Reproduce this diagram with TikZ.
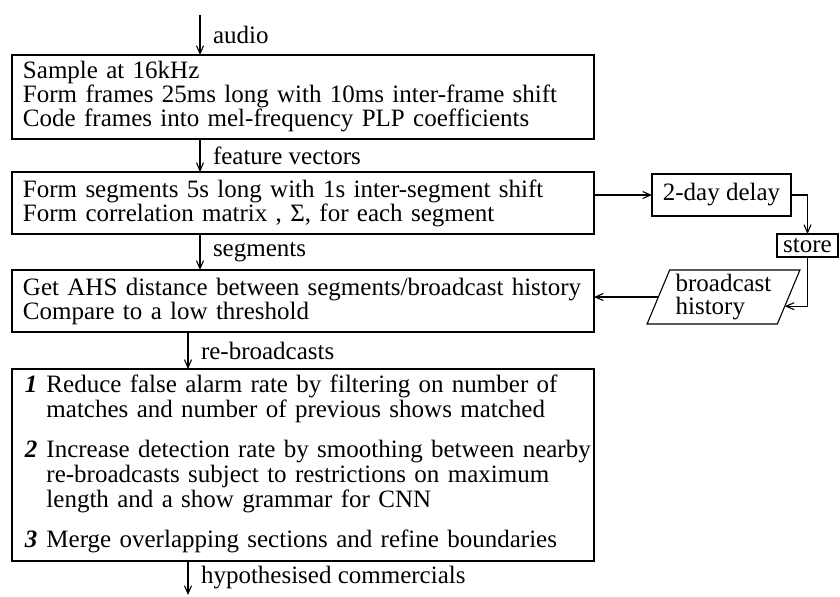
\documentclass[tikz,border=0pt]{standalone}
\usepackage{fontspec}
\setmainfont{Liberation Serif}
\usetikzlibrary{arrows.meta,shapes.geometric,calc}

\begin{document}
\begin{tikzpicture}[x=0.5pt,y=-0.5pt,
        every node/.style={font=\fontsize{12.5}{12}\selectfont, outer sep=0pt},
        box/.style={draw, line width=0.55pt, anchor=north west, align=left,
            text width=280pt, inner xsep=5.5pt, inner ysep=0pt},
        sidebox/.style={draw, line width=0.55pt, inner sep=0pt},
        flow/.style={line width=0.55pt, -{Straight Barb[length=4pt,width=3.5pt]}},
        lbl/.style={midway, right, inner sep=0pt, xshift=6.5pt}]
        \useasboundingbox (0,0) rectangle (840,596);

        \coordinate (top) at (200,15);
        \coordinate (bottom) at (188,595);

        % main chain
        \node[box, minimum height=42pt] (sample) at (12,55) {Sample at 16kHz\\
            Form frames 25ms long with 10ms inter-frame shift\\
            Code frames into mel-frequency PLP coefficients};
        \node[box, minimum height=31pt] (segbox) at (12,172) {Form segments 5s long with 1s inter-segment shift\\
            Form correlation matrix , Σ, for each segment};
        \node[box, minimum height=31pt] (ahsbox) at (12,270) {Get AHS distance between segments/broadcast history\\
            Compare to a low threshold};
        \node[box, minimum height=96pt, inner xsep=6.5pt, text width=278pt] (postbox) at (12,369) {%
            \begin{tabular}{@{}l@{\hspace{4.5pt}}l@{}}
                \textbf{\textit{1}} & Reduce false alarm rate by filtering on number of\\
                & matches and number of previous shows matched\\[8pt]
                \textbf{\textit{2}} & Increase detection rate by smoothing between nearby\\
                & re-broadcasts subject to restrictions on maximum\\
                & length and a show grammar for CNN\\[8pt]
                \textbf{\textit{3}} & Merge overlapping sections and refine boundaries
            \end{tabular}};

        \draw[flow] (top) -- (top |- sample.north) node[lbl] (audiolbl) {audio};
        \draw[flow] (sample.south -| top) -- (segbox.north -| top) node[lbl] (featlbl) {feature vectors};
        \draw[flow] (segbox.south -| top) -- (ahsbox.north -| top) node[lbl] (seglbl) {segments};
        \draw[flow] (ahsbox.south -| bottom) -- (postbox.north -| bottom) node[lbl] (rebclbl) {re-broadcasts};
        \draw[flow] (postbox.south -| bottom) -- (bottom) node[lbl] (hyplbl) {hypothesised commercials};

        % history loop
        \node[sidebox, minimum width=69.5pt, minimum height=21pt] (delay) at (721.5,195) {2-day delay};
        \node[sidebox, minimum width=30.5pt, minimum height=11.5pt] (store) at (807.5,245.5) {store};
        \node[sidebox, trapezium, trapezium left angle=66, trapezium right angle=114,
            trapezium stretches=true, minimum width=76.5pt, minimum height=27pt,
            align=left, font=\fontsize{12.5}{11.2}\selectfont] (hist) at (723.5,297) {broadcast\\history};
        \coordinate (histin) at ($(hist.bottom right corner)!0.33!(hist.top right corner)$);

        \draw[flow] (segbox.east |- delay.west) -- (delay.west);
        \draw[flow] (delay.east) -| (store.north);
        \draw[flow] (store.south) |- (histin);
        \draw[flow] (hist.left side) -- (hist.left side -| ahsbox.east);
    \end{tikzpicture}
\end{document}
